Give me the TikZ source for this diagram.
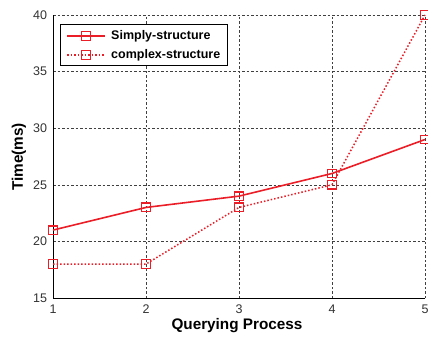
\documentclass[tikz,border=0pt]{standalone}
\usepackage{fontspec}
\setmainfont{Liberation Sans}
\definecolor{plotred}{RGB}{235,30,40}
\begin{document}
\begin{tikzpicture}[x=1pt,y=-1pt,
  gridline/.style={black!75,line width=0.6pt,dash pattern=on 2.5pt off 2pt},
  axisline/.style={black,line width=0.9pt},
  ticklab/.style={font=\fontsize{12.5}{13}\selectfont,text=black!80,inner sep=1pt},
  axlabel/.style={font=\bfseries\fontsize{15.3}{16}\selectfont},
  mk/.style={draw=plotred,rectangle,minimum size=8.5pt,inner sep=0pt,line width=1.4pt},
  simple/.style={plotred,line width=1.6pt},
  complexl/.style={plotred,line width=1.5pt,dotted}]
\useasboundingbox[fill=white] (0,0) rectangle (428,338);
\begin{scope}[shift={(-40,467.8)},x=93pt,y=11.32pt]
  % grid
  \foreach \i in {2,3,4,5} \draw[gridline] (\i,15) -- (\i,40);
  \foreach \v in {20,25,30,35,40} \draw[gridline] (1,\v) -- (5,\v);
  % axes
  \draw[axisline] (1,40) -- (1,15) -- (5,15);
  \foreach \i in {1,...,5} \node[ticklab,anchor=north] (xt\i) at (\i,14.5) {\i};
  \foreach \v in {15,20,...,40} \node[ticklab,anchor=east] (yt\v) at (0.95,\v) {\v};
  % data
  \foreach \i/\v in {1/21,2/23,3/24,4/26,5/29} \node[mk] (s\i) at (\i,\v) {};
  \foreach \i/\v in {1/18,2/18,3/23,4/25,5/40} \node[mk] (c\i) at (\i,\v) {};
  \draw[simple] (s1.center) -- (s2.center) -- (s3.center) -- (s4.center) -- (s5.center);
  \draw[complexl] (c1.center) -- (c2.center) -- (c3.center) -- (c4.center) -- (c5.center);
\end{scope}
% legend
\node[draw=black,line width=0.9pt,fill=white,minimum width=167pt,minimum height=41pt,anchor=north west] (leg) at (60,24) {};
\coordinate (l1a) at (67,36); \coordinate (l1b) at (105,36);
\coordinate (l2a) at (67,55); \coordinate (l2b) at (105,55);
\draw[simple] (l1a) -- (l1b);
\draw[complexl] (l2a) -- (l2b);
\node[mk] (lm1) at (86,36) {};
\node[mk] (lm2) at (86,55) {};
\node[anchor=west,font=\bfseries\fontsize{12.5}{13}\selectfont,inner sep=0pt] (lt1) at (111,36) {Simply-structure};
\node[anchor=west,font=\bfseries\fontsize{12.5}{13}\selectfont,inner sep=0pt] (lt2) at (111,55) {complex-structure};
% axis labels
\node[axlabel] (xl) at (237,326) {Querying Process};
\node[axlabel,rotate=90] (yl) at (19,157) {Time(ms)};
\end{tikzpicture}
\end{document}
